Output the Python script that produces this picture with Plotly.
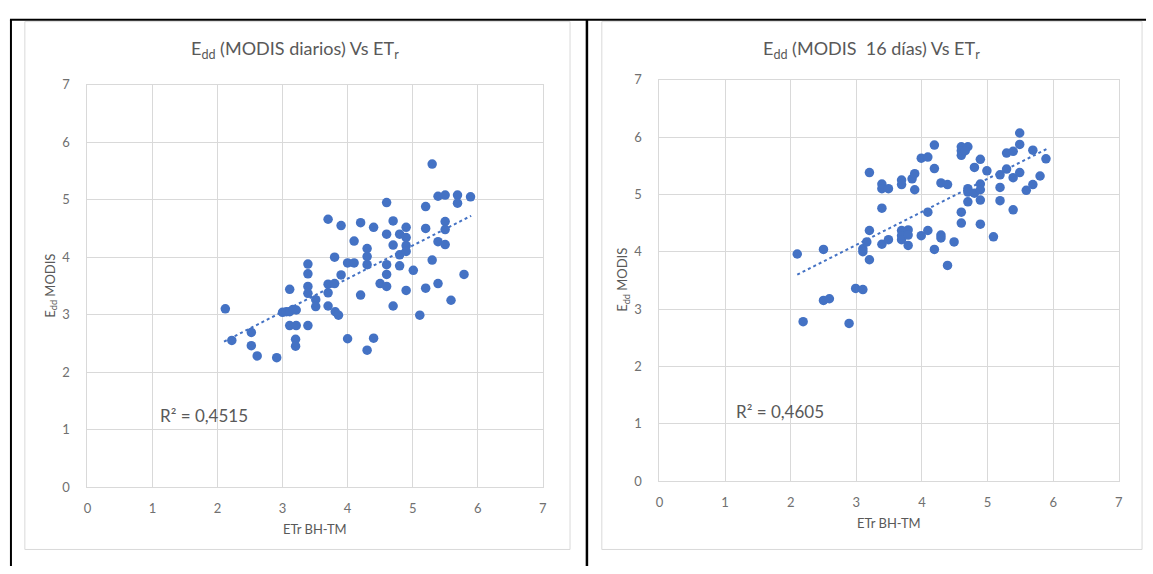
import plotly.graph_objects as go

# ---------------- data ----------------
x_diarios = [2.12, 2.22, 2.52, 2.52, 2.61, 2.91, 3.00, 3.06, 3.11, 3.16, 3.21, 3.11, 3.11, 3.21,
             3.20, 3.20, 3.39, 3.39, 3.39, 3.39, 3.39, 3.51, 3.51, 3.70, 3.70, 3.70, 3.70, 3.80,
             3.80, 3.81, 3.86, 3.90, 3.90, 4.00, 4.10, 4.00, 4.10, 4.20, 4.20, 4.30, 4.30, 4.30,
             4.30, 4.40, 4.40, 4.50, 4.60, 4.60, 4.60, 4.60, 4.60, 4.70, 4.70, 4.70, 4.80, 4.80,
             4.80, 4.90, 4.90, 4.90, 4.90, 4.90, 5.01, 5.11, 5.20, 5.20, 5.20, 5.30, 5.30, 5.39,
             5.39, 5.39, 5.50, 5.50, 5.50, 5.50, 5.59, 5.69, 5.69, 5.79, 5.89]
y_diarios = [3.10, 2.55, 2.69, 2.46, 2.28, 2.25, 3.04, 3.05, 3.05, 3.09, 3.08, 3.44, 2.81, 2.81,
             2.57, 2.45, 2.81, 3.88, 3.71, 3.49, 3.37, 3.26, 3.14, 4.66, 3.53, 3.38, 3.15, 3.54,
             4.00, 3.05, 2.99, 4.55, 3.69, 3.90, 3.90, 2.58, 4.28, 4.60, 3.34, 4.15, 4.01, 3.87,
             2.38, 4.52, 2.59, 3.54, 4.95, 4.40, 3.87, 3.70, 3.49, 4.63, 4.21, 3.15, 4.40, 4.04,
             3.85, 4.52, 4.34, 4.20, 4.10, 3.42, 3.77, 2.99, 4.88, 4.50, 3.46, 5.62, 3.95, 5.06,
             4.27, 3.54, 5.08, 4.62, 4.48, 4.22, 3.25, 5.08, 4.94, 3.70, 5.05]

x_16dias = [2.10, 2.50, 2.19, 2.50, 2.59, 2.89, 2.99, 3.10, 3.10, 3.10, 3.16, 3.20, 3.20, 3.20,
            3.39, 3.39, 3.49, 3.39, 3.39, 3.49, 3.69, 3.69, 3.69, 3.69, 3.69, 3.79, 3.79, 3.79,
            3.85, 3.89, 3.89, 3.99, 4.09, 3.99, 4.09, 4.09, 4.19, 4.19, 4.19, 4.29, 4.39, 4.29,
            4.29, 4.39, 4.49, 4.60, 4.60, 4.60, 4.70, 4.66, 4.60, 4.60, 4.70, 4.70, 4.70, 4.80,
            4.80, 4.89, 4.89, 4.89, 4.89, 4.89, 4.99, 5.09, 5.19, 5.19, 5.19, 5.29, 5.29, 5.39,
            5.39, 5.39, 5.49, 5.49, 5.49, 5.59, 5.69, 5.69, 5.80, 5.89]
y_16dias = [3.96, 4.04, 2.78, 3.15, 3.18, 2.75, 3.36, 3.34, 4.05, 4.00, 4.17, 4.37, 3.86, 5.38,
            5.18, 5.10, 5.10, 4.76, 4.13, 4.21, 5.25, 5.17, 4.37, 4.28, 4.21, 4.38, 4.29, 4.11,
            5.27, 5.36, 5.08, 5.63, 5.65, 4.28, 4.37, 4.69, 5.86, 5.45, 4.04, 5.20, 5.17, 4.29,
            4.24, 3.76, 4.17, 5.83, 5.76, 5.68, 5.83, 5.76, 4.69, 4.50, 5.10, 5.04, 4.87, 5.47,
            5.02, 5.61, 5.18, 5.08, 4.90, 4.48, 5.41, 4.26, 5.34, 5.12, 4.89, 5.72, 5.44, 5.75,
            5.29, 4.73, 6.07, 5.87, 5.38, 5.07, 5.77, 5.17, 5.32, 5.62]

trend_diarios_x = [2.10, 5.90]
trend_diarios_y = [2.53, 4.72]
trend_16dias_x = [2.10, 5.90]
trend_16dias_y = [3.60, 5.79]

r2_diarios = "R² = 0,4515"
r2_16dias = "R² = 0,4605"
r2_diarios_pos = (1.80, 1.25)
r2_16dias_pos = (1.83, 1.22)

title_diarios = "E<sub>dd</sub> (MODIS diarios) Vs ET<sub>r</sub>"
title_16dias = "E<sub>dd</sub> (MODIS  16 días) Vs ET<sub>r</sub>"
x_title = "ETr BH-TM"
y_title = "E<sub>dd</sub> MODIS"
tick_vals = [0, 1, 2, 3, 4, 5, 6, 7]

# ---------------- styling ----------------
W, H = 1153, 574
BLUE = "#4472C4"
GRID = "#d9d9d9"
TXT = "#595959"
TICK = "#707070"
FONT = "Lato"


def px(v):
    return v / W


def py(v):
    return 1 - v / H


fig = go.Figure()

for xs, ys, tx, ty, xa, ya in [
    (x_diarios, y_diarios, trend_diarios_x, trend_diarios_y, "x", "y"),
    (x_16dias, y_16dias, trend_16dias_x, trend_16dias_y, "x2", "y2"),
]:
    fig.add_trace(go.Scatter(x=tx, y=ty, mode="lines", xaxis=xa, yaxis=ya,
                             line=dict(color=BLUE, width=2, dash="dot"),
                             showlegend=False, hoverinfo="skip"))
    fig.add_trace(go.Scatter(x=xs, y=ys, mode="markers", xaxis=xa, yaxis=ya,
                             marker=dict(color=BLUE, size=9.5, line=dict(width=0)),
                             showlegend=False))

axis_common = dict(range=[0, 7], tickvals=tick_vals, showgrid=True, gridcolor=GRID,
                   gridwidth=1, zeroline=False, showline=True, linecolor=GRID,
                   linewidth=1, mirror=True, ticks="",
                   tickfont=dict(family=FONT, size=13, color=TICK), fixedrange=True)

fig.update_layout(
    width=W, height=H,
    margin=dict(l=0, r=0, t=0, b=0),
    paper_bgcolor="white", plot_bgcolor="white",
    xaxis=dict(domain=[px(84), px(542.5)], anchor="y", ticklabelstandoff=9, **axis_common),
    yaxis=dict(domain=[py(492.7), py(79)], anchor="x", ticklabelstandoff=14, **axis_common),
    xaxis2=dict(domain=[px(660), px(1122.6)], anchor="y2", ticklabelstandoff=9, **axis_common),
    yaxis2=dict(domain=[py(486.7), py(73.7)], anchor="x2", ticklabelstandoff=14, **axis_common),
)

# chart boxes and table borders
shapes = [
    dict(type="rect", xref="paper", yref="paper", x0=px(21), x1=px(570), y0=py(557), y1=py(14),
         line=dict(color=GRID, width=1)),
    dict(type="rect", xref="paper", yref="paper", x0=px(602), x1=px(1146), y0=py(557), y1=py(14),
         line=dict(color=GRID, width=1)),
    dict(type="line", xref="paper", yref="paper", x0=px(6), x1=px(1150), y0=py(12), y1=py(12),
         line=dict(color="black", width=2)),
    dict(type="line", xref="paper", yref="paper", x0=px(7), x1=px(7), y0=py(12), y1=py(574),
         line=dict(color="black", width=2)),
    dict(type="line", xref="paper", yref="paper", x0=px(587), x1=px(587), y0=py(12), y1=py(574),
         line=dict(color="black", width=2.5)),
]
fig.update_layout(shapes=shapes)

ann = []
for t, cx in [(title_diarios, 293), (title_16dias, 874)]:
    ann.append(dict(text=t, xref="paper", yref="paper", x=px(cx), y=py(43), showarrow=False,
                    xanchor="center", yanchor="middle",
                    font=dict(family=FONT, size=18, color=TXT)))
for cx, cy in [(313, 536), (891, 530)]:
    ann.append(dict(text=x_title, xref="paper", yref="paper", x=px(cx), y=py(cy), showarrow=False,
                    xanchor="center", yanchor="middle",
                    font=dict(family=FONT, size=13, color=TXT)))
for cx, cy in [(47, 286), (624, 280)]:
    ann.append(dict(text=y_title, xref="paper", yref="paper", x=px(cx), y=py(cy), showarrow=False,
                    xanchor="center", yanchor="middle", textangle=-90,
                    font=dict(family=FONT, size=13, color=TXT)))
ann.append(dict(text=r2_diarios, xref="x", yref="y", x=r2_diarios_pos[0], y=r2_diarios_pos[1],
                showarrow=False, font=dict(family=FONT, size=17, color=TXT)))
ann.append(dict(text=r2_16dias, xref="x2", yref="y2", x=r2_16dias_pos[0], y=r2_16dias_pos[1],
                showarrow=False, font=dict(family=FONT, size=17, color=TXT)))
fig.update_layout(annotations=ann)

fig.write_html("out.html")
